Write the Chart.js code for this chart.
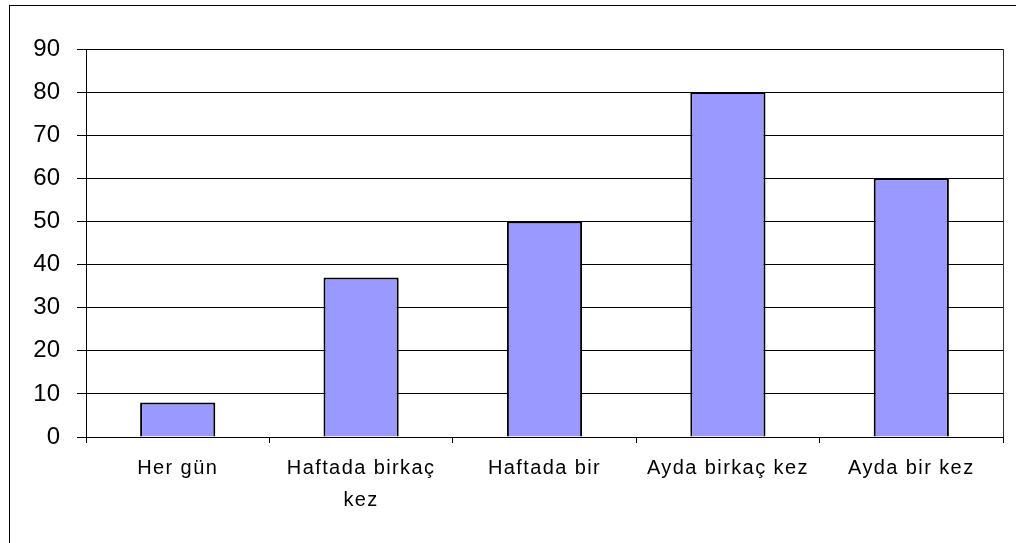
<!DOCTYPE html>
<html>
<head>
<meta charset="utf-8">
<script src="https://cdn.jsdelivr.net/npm/chart.js@4.4.1/dist/chart.umd.min.js"></script>
<style>
  html, body { margin: 0; padding: 0; background: #fff; }
  #wrap { width: 1016px; height: 543px; }
</style>
</head>
<body>
<div id="wrap"><canvas id="grafica" width="1016" height="543"></canvas></div>
<script>
// categorías y valores
const categorias = ['Her gün', ['Haftada birkaç', 'kez'], 'Haftada bir', 'Ayda birkaç kez', 'Ayda bir kez'];
const valores = [8, 37, 50, 80, 60];
const ejeY = { min: 0, max: 90, paso: 10 };

const FUENTE = '"Liberation Sans", Arial, sans-serif';

// marco exterior + borde derecho del área de trazado
const marco = {
  id: 'marco',
  beforeDraw(chart) {
    const ctx = chart.ctx;
    ctx.save();
    ctx.fillStyle = '#fff';
    ctx.fillRect(0, 0, chart.width, chart.height);
    ctx.strokeStyle = '#000';
    ctx.lineWidth = 1;
    ctx.strokeRect(9.5, 5.5, chart.width + 10, chart.height + 10);
    ctx.restore();
  },
  afterLayout(chart) {
    // espaciado de letras solo para las etiquetas del eje x
    const s = chart.scales.x;
    if (s && !s._conEspaciado) {
      const orig = s.drawLabels;
      s.drawLabels = function (area) {
        this.ctx.save();
        this.ctx.letterSpacing = '1.4px';
        orig.call(this, area);
        this.ctx.restore();
      };
      s._conEspaciado = true;
    }
  },
  afterDatasetsDraw(chart) {
    const { ctx, chartArea: a } = chart;
    ctx.save();
    ctx.strokeStyle = '#333';
    ctx.lineWidth = 1;
    ctx.beginPath();
    ctx.moveTo(Math.round(a.right) + 0.5, a.top);
    ctx.lineTo(Math.round(a.right) + 0.5, a.bottom);
    ctx.stroke();
    ctx.restore();
  }
};

new Chart(document.getElementById('grafica').getContext('2d'), {
  type: 'bar',
  data: {
    labels: categorias,
    datasets: [{
      data: valores,
      backgroundColor: '#9999ff',
      borderColor: '#000',
      borderWidth: 2,
      barPercentage: 0.41,
      categoryPercentage: 1
    }]
  },
  options: {
    responsive: false,
    animation: false,
    devicePixelRatio: 1,
    layout: { padding: { top: 49, right: 13, bottom: 0, left: 0 } },
    plugins: { legend: { display: false }, tooltip: { enabled: false } },
    scales: {
      x: {
        afterFit(scale) { scale.height = 106; },
        grid: { drawOnChartArea: false, drawTicks: true, tickLength: 6, color: '#000', offset: true },
        border: { color: '#000', width: 1 },
        ticks: { color: '#000', padding: 9, font: { family: FUENTE, size: 20, lineHeight: 1.6 }, maxRotation: 0, autoSkip: false }
      },
      y: {
        min: ejeY.min,
        max: ejeY.max,
        afterFit(scale) { scale.width = 86; },
        grid: { color: '#000', lineWidth: 1, tickLength: 9 },
        border: { color: '#000', width: 1 },
        ticks: { stepSize: ejeY.paso, color: '#000', padding: 17, font: { family: FUENTE, size: 24 } }
      }
    }
  },
  plugins: [marco]
});
</script>
</body>
</html>
